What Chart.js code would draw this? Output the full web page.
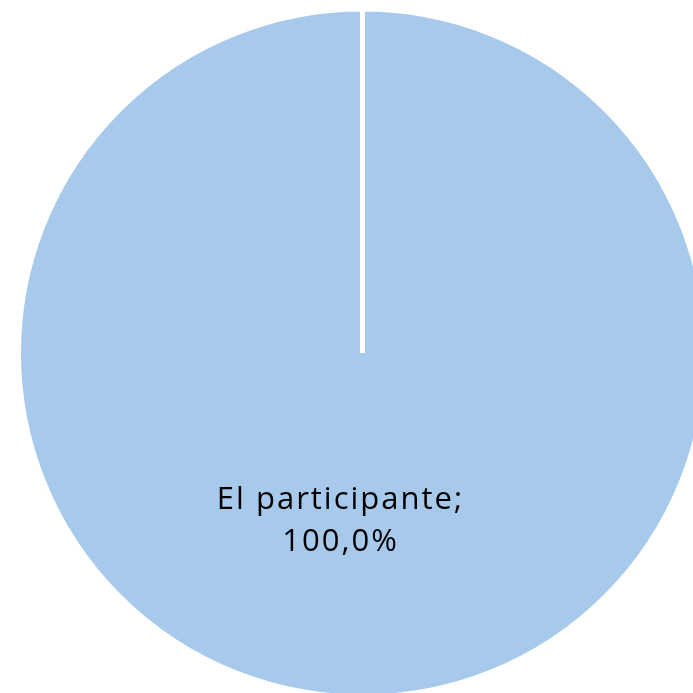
<!DOCTYPE html>
<html>
<head>
<meta charset="utf-8">
<script src="https://cdn.jsdelivr.net/npm/chart.js@4"></script>
<style>
  html, body { margin: 0; padding: 0; background: #fff; overflow: hidden; width: 693px; height: 693px; }
  #wrap { position: absolute; left: 0; top: 0; width: 725px; height: 706px; }
</style>
</head>
<body>
<div id="wrap"><canvas id="c" width="725" height="706"></canvas></div>
<script>
const categories = ['El participante'];
const values = [100];
const percentLabels = ['100,0%'];

const labelPlugin = {
  id: 'sliceLabels',
  afterDatasetsDraw(chart) {
    const ctx = chart.ctx;
    const meta = chart.getDatasetMeta(0);
    ctx.save();
    ctx.fillStyle = '#000';
    ctx.font = '31px "Open Sans", sans-serif';
    if ('letterSpacing' in ctx) ctx.letterSpacing = '2px';
    ctx.textAlign = 'center';
    ctx.textBaseline = 'middle';
    meta.data.forEach((arc, i) => {
      const p = arc.tooltipPosition();
      const x = p.x - 22;
      const y = p.y - 4;
      ctx.fillText(categories[i] + ';', x, y - 21);
      ctx.fillText(percentLabels[i], x, y + 21);
    });
    ctx.restore();
  }
};

new Chart(document.getElementById('c'), {
  type: 'pie',
  data: {
    labels: categories,
    datasets: [{
      data: values,
      backgroundColor: ['#A7C9EB'],
      borderColor: '#ffffff',
      borderWidth: 5
    }]
  },
  options: {
    responsive: false,
    animation: false,
    radius: 344,
    layout: { padding: 0 },
    plugins: { legend: { display: false }, tooltip: { enabled: false } }
  },
  plugins: [labelPlugin]
});
</script>
</body>
</html>
